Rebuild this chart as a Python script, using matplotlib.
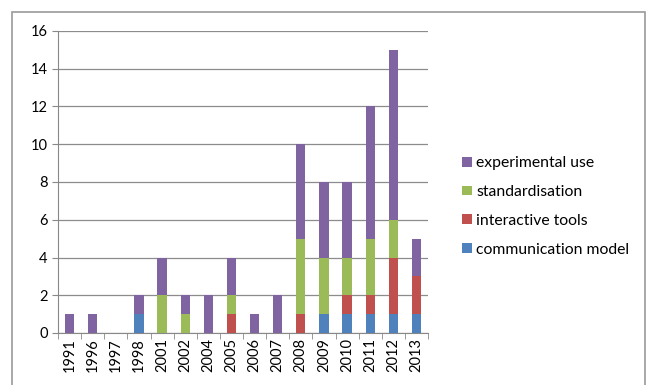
import matplotlib.pyplot as plt
from matplotlib.patches import Rectangle
import numpy as np

plt.rcParams["font.family"] = ["Lato", "DejaVu Sans"]

years = ["1991", "1996", "1997", "1998", "2001", "2002", "2004", "2005",
         "2006", "2007", "2008", "2009", "2010", "2011", "2012", "2013"]
communication_model = [0, 0, 0, 1, 0, 0, 0, 0, 0, 0, 0, 1, 1, 1, 1, 1]
interactive_tools = [0, 0, 0, 0, 0, 0, 0, 1, 0, 0, 1, 0, 1, 1, 3, 2]
standardisation = [0, 0, 0, 0, 2, 1, 0, 1, 0, 0, 4, 3, 2, 3, 2, 0]
experimental_use = [1, 1, 0, 1, 2, 1, 2, 2, 1, 2, 5, 4, 4, 7, 9, 2]

series = [
    ("communication model", communication_model, "#4F81BD"),
    ("interactive tools", interactive_tools, "#C0504D"),
    ("standardisation", standardisation, "#9BBB59"),
    ("experimental use", experimental_use, "#8064A2"),
]

fig = plt.figure(figsize=(6.49, 3.85), dpi=100)
# chart-area frame around everything
fig.patches.append(Rectangle((12 / 649, -0.05), 633 / 649, 1 - 12 / 385 + 0.05,
                             transform=fig.transFigure, fill=False,
                             edgecolor="#9a9a9a", linewidth=1.2))

ax = fig.add_axes([58 / 649, 1 - 333 / 385, 370 / 649, 302 / 385])

x = np.arange(len(years))
bottom = np.zeros(len(years))
handles = []
for name, vals, color in series:
    b = ax.bar(x, vals, width=0.4, bottom=bottom, color=color, label=name, zorder=3)
    handles.append(b)
    bottom += np.array(vals)

ax.set_xlim(-0.5, len(years) - 0.5)
ax.set_ylim(0, 16)
ax.set_yticks(range(0, 17, 2))
ax.set_xticks(x)
ax.set_xticklabels(years, rotation=90, fontsize=10.5)
ax.tick_params(axis="y", labelsize=10.5, length=4, color="#888888")
ax.set_xticks(np.arange(-0.5, len(years), 1), minor=True)
ax.tick_params(axis="x", which="minor", length=4, color="#888888")
ax.tick_params(axis="x", which="major", length=0)
ax.grid(axis="y", color="#8c8c8c", linewidth=0.9, zorder=0)

for side in ["top", "right"]:
    ax.spines[side].set_visible(False)
ax.spines["left"].set_color("#888888")
ax.spines["bottom"].set_color("#888888")

fig.legend(handles[::-1], [s[0] for s in series][::-1],
           loc="upper left", bbox_to_anchor=(448 / 649, 1 - 142 / 385),
           frameon=False, fontsize=11.3, handlelength=0.6, handleheight=0.6,
           handletextpad=0.3, labelspacing=0.95)

fig.savefig("out.png", dpi=100)
plt.close(fig)
